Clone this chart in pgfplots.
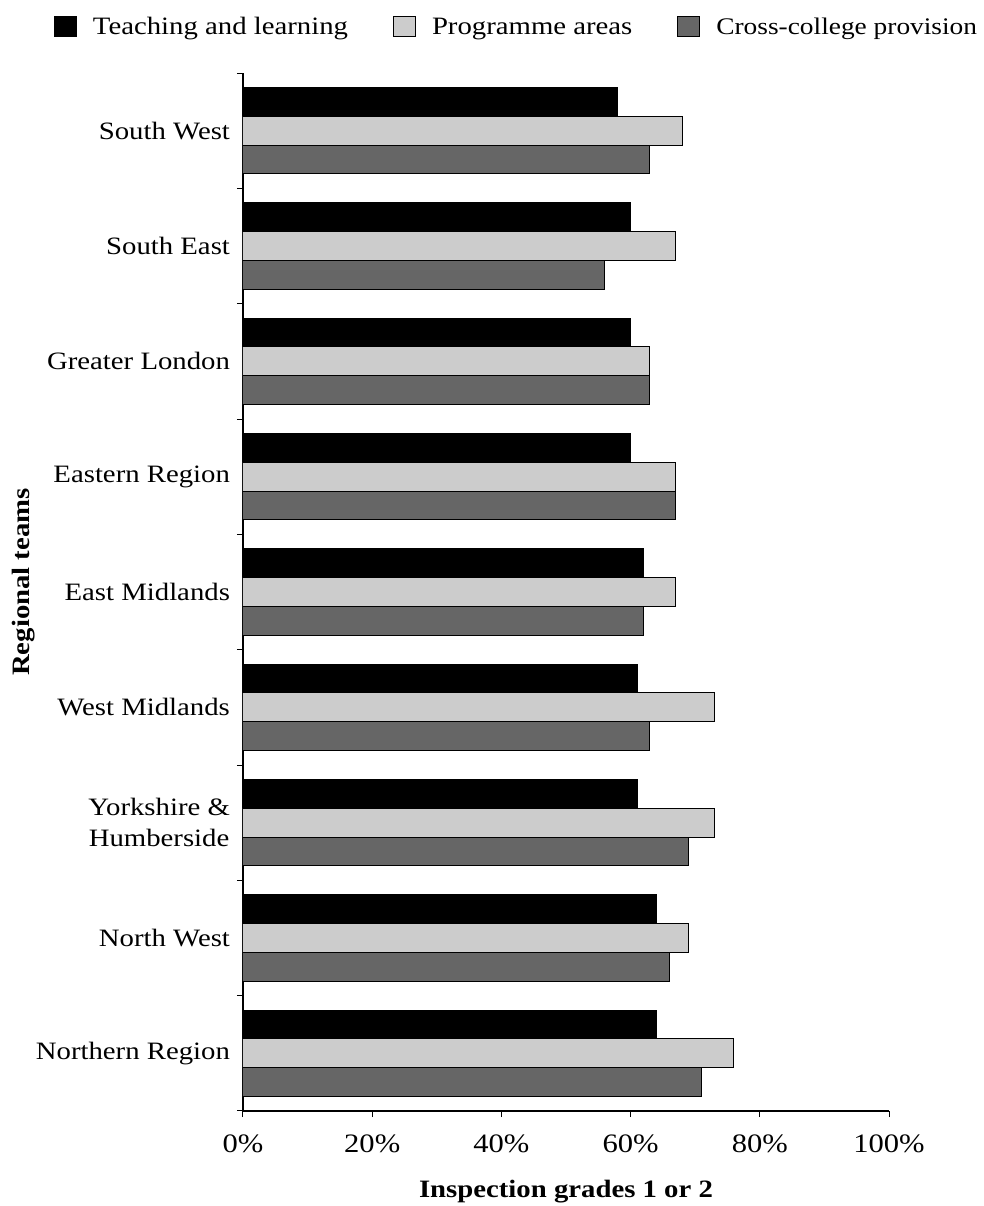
\documentclass[border=0pt]{standalone}
\usepackage{pgfplots}
\usepackage{pgfplotstable}
\pgfplotsset{compat=1.18}
\usepackage{fontspec}
\setmainfont{Liberation Serif}[FakeStretch=1.15]

\definecolor{teach}{HTML}{000000}
\definecolor{prog}{HTML}{CCCCCC}
\definecolor{cross}{HTML}{666666}

% share of inspection grades 1 or 2 (%), regions listed bottom (0) to top (8)
\pgfplotstableread{
y teach prog cross
0 64 76 71
1 64 69 66
2 61 73 69
3 61 73 63
4 62 67 62
5 60 67 67
6 60 63 63
7 60 67 56
8 58 68 63
}\regions

\pgfplotsset{
  boxlegend/.style={legend image code/.code={%
    \draw[##1, draw=black, line width=0.5pt] (0pt,-4.5pt) rectangle (11pt,5.5pt);}},
}

\begin{document}
\begin{tikzpicture}[font=\fontsize{12.5}{15.5}\selectfont]
\path[use as bounding box] (0,0) rectangle (492pt,603pt);
\begin{axis}[
  at={(121.5pt,47.5pt)}, anchor=south west,
  scale only axis, width=323pt, height=519pt,
  xbar, bar width=0.25,
  xmin=0, xmax=100, ymin=-0.5, ymax=8.5,
  axis x line*=bottom, axis y line*=left,
  axis line style={-, line width=0.6pt},
  xtick={0,20,...,100},
  xticklabels={0\%,20\%,40\%,60\%,80\%,100\%},
  xticklabel style={font=\fontsize{13.3}{16}\selectfont, yshift=-5.5pt},
  ytick={0,...,8},
  yticklabels={Northern Region,North West,{Yorkshire \&\\Humberside},West Midlands,East Midlands,Eastern Region,Greater London,South East,South West},
  yticklabel style={align=center},
  minor ytick={-0.5,0.5,...,8.5},
  tick align=outside,
  major tick length=3pt, minor tick length=3pt,
  every major y tick/.append style={draw=none},
  tick style={line width=0.5pt, black},
  xlabel={\bfseries Inspection grades 1 or 2},
  xlabel style={at={(axis description cs:0.5,-0.0838)}, anchor=base},
  ylabel={\bfseries Regional teams},
  ylabel style={at={(axis description cs:-0.339,0.5096)}, anchor=center},
  legend columns=3,
  legend style={draw=none, fill=none, inner sep=0pt, outer sep=0pt,
    at={(axis description cs:-0.2926,1.0549)}, anchor=north west,
    nodes={inner sep=0pt},
    /tikz/every odd column/.append style={column sep=8pt},
    /tikz/every even column/.append style={column sep=22.5pt}},
]
\addplot[fill=teach, draw=black, line width=0.5pt, bar shift=0.25, boxlegend]
  table[x=teach, y=y] {\regions};
\addplot[fill=prog, draw=black, line width=0.5pt, bar shift=0, boxlegend]
  table[x=prog, y=y] {\regions};
\addplot[fill=cross, draw=black, line width=0.5pt, bar shift=-0.25, boxlegend]
  table[x=cross, y=y] {\regions};
\legend{Teaching and learning, Programme areas,
  {\fontsize{11.9}{14}\selectfont Cross-college provision}}
\end{axis}
\end{tikzpicture}
\end{document}
